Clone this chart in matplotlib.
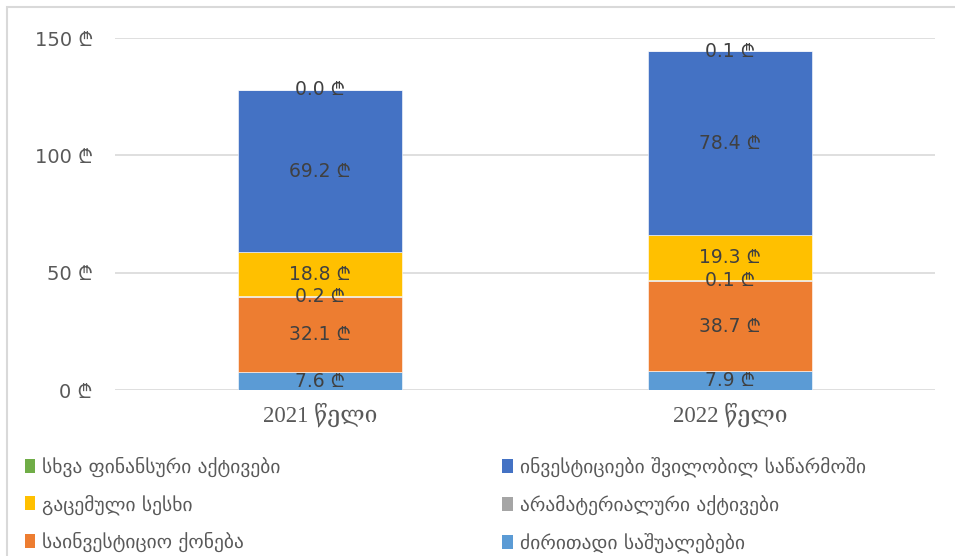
import numpy as np
import matplotlib.pyplot as plt
from matplotlib.patches import Rectangle, Patch

plt.rcParams['font.family'] = ['DejaVu Sans', 'Noto Sans']

years = ["2021 წელი", "2022 წელი"]
series_names = [
    "ძირითადი საშუალებები",
    "საინვესტიციო ქონება",
    "არამატერიალური აქტივები",
    "გაცემული სესხი",
    "ინვესტიციები შვილობილ საწარმოში",
    "სხვა ფინანსური აქტივები",
]
fixed_assets = [7.6, 7.9]
invest_property = [32.1, 38.7]
intangible = [0.2, 0.1]
loans = [18.8, 19.3]
subsidiaries = [69.2, 78.4]
other_fin = [0.0, 0.1]
colors = ["#5B9BD5", "#ED7D31", "#A5A5A5", "#FFC000", "#4472C4", "#70AD47"]

all_series = [fixed_assets, invest_property, intangible, loans, subsidiaries, other_fin]

fig = plt.figure(figsize=(9.55, 5.56), dpi=100)
ax = fig.add_axes([115 / 955, 166 / 556, 820 / 955, 352 / 556])

x = np.arange(len(years))
bottom = np.zeros(len(years))
for vals, col in zip(all_series, colors):
    vals = np.array(vals)
    ax.bar(x, vals, 0.4, bottom=bottom, color=col, edgecolor="white", linewidth=0.4, zorder=3)
    for xi, v, bt in zip(x, vals, bottom):
        ax.text(xi, bt + v / 2, f"{v:.1f} ₾", ha="center", va="center",
                fontsize=13.5, color="#404040", zorder=5)
    bottom += vals

ax.set_xlim(-0.5, 1.5)
ax.set_ylim(0, 150)
ax.set_yticks([0, 50, 100, 150])
ax.set_yticklabels([f"{t} ₾" for t in [0, 50, 100, 150]])
ax.set_xticks(x)
ax.set_xticklabels(years, family=["Liberation Serif", "DejaVu Serif"], fontsize=16.5)
ax.tick_params(axis="both", length=0, labelcolor="#595959")
ax.tick_params(axis="y", labelsize=14, pad=16)
ax.tick_params(axis="x", pad=9)
ax.yaxis.grid(True, color="#D9D9D9", linewidth=1.2, zorder=0)
for s in ax.spines.values():
    s.set_visible(False)

# chart border (cropped)
fig.patches.append(Rectangle((7 / 955, -0.1), 1.1, (549 + 55.6) / 556, transform=fig.transFigure,
                             fill=False, edgecolor="#D9D9D9", linewidth=1.5))

order = [5, 3, 1, 4, 2, 0]
handles = [Patch(facecolor=colors[i]) for i in order]
labels = [series_names[i] for i in order]
leg_fs = 14


def make_legend(colspace):
    return fig.legend(handles, labels, ncol=2, loc="upper left",
                      bbox_to_anchor=(7 / 955, 1 - 439 / 556),
                      frameon=False, prop={"size": leg_fs}, labelcolor="#595959",
                      handlelength=0.55, handleheight=0.75, labelspacing=0.9,
                      handletextpad=0.35, columnspacing=colspace)


# measure first column, then rebuild so second column markers sit near x=508
leg = make_legend(1.0)
fig.canvas.draw()
c1 = leg._legend_handle_box.get_children()[0].get_window_extent()
leg.remove()
gap_px = (508 - 6) - c1.x1
leg = make_legend(max(gap_px, 1) / (leg_fs * 100 / 72))

fig.savefig("out.png", dpi=100)
